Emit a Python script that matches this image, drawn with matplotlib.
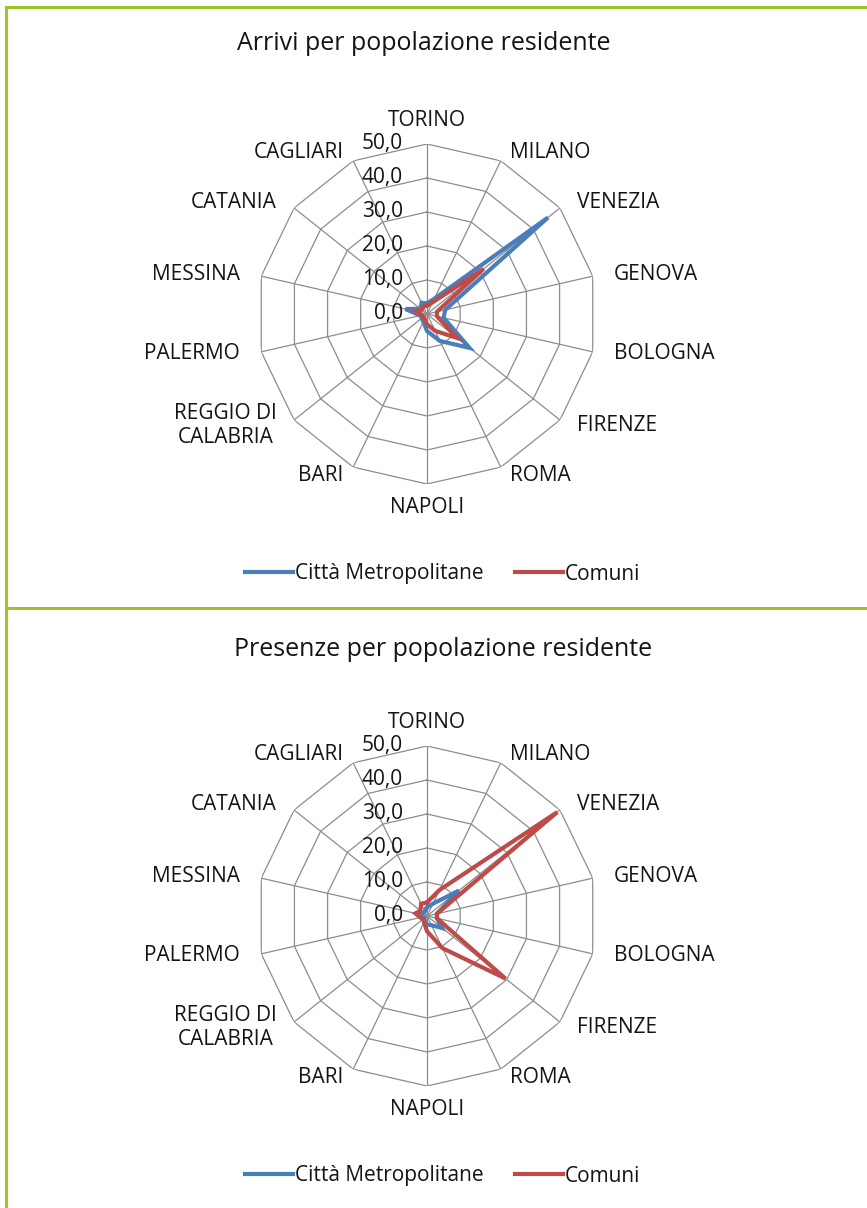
import numpy as np
import matplotlib.pyplot as plt
from matplotlib.lines import Line2D

citta = ['TORINO', 'MILANO', 'VENEZIA', 'GENOVA', 'BOLOGNA', 'FIRENZE', 'ROMA',
         'NAPOLI', 'BARI', 'REGGIO DI\nCALABRIA', 'PALERMO', 'MESSINA', 'CATANIA', 'CAGLIARI']
ticks = [0, 10, 20, 30, 40, 50]
serie = ['Città Metropolitane', 'Comuni']

# arrivi per popolazione residente
arrivi_cm = [3.1, 5.0, 45.5, 5.5, 5.0, 16.0, 8.8, 5.0, 2.5, 2.0, 2.0, 6.5, 2.5, 3.7]
arrivi_com = [2.5, 3.8, 21.3, 3.0, 3.0, 11.3, 5.5, 3.0, 1.5, 1.5, 1.5, 3.5, 2.0, 2.5]

# presenze per popolazione residente
presenze_cm = [2.5, 4.0, 12.0, 3.0, 3.0, 5.7, 3.0, 2.5, 1.5, 1.0, 1.5, 2.5, 1.5, 1.5]
presenze_com = [4.0, 8.5, 49.0, 3.0, 3.0, 29.5, 10.5, 4.5, 2.0, 1.5, 2.0, 3.5, 2.5, 4.0]

plt.rcParams['font.family'] = ['Open Sans', 'DejaVu Sans']

W, H = 867, 1208
fig = plt.figure(figsize=(W / 100, H / 100), dpi=100)

BLUE = '#4A7EBB'
RED = '#BE4B48'
GRID = '#8C8C8C'
GREEN = '#9DC42B'
TXT = '#141414'

ang = np.linspace(0, 2 * np.pi, len(citta), endpoint=False)
closed = np.append(ang, ang[0])


def radar(cy, title, tx, ty, cm, com, ly):
    R = 170
    ax = fig.add_axes([(427 - R) / W, (H - cy - R) / H, 2 * R / W, 2 * R / H],
                      projection='polar')
    ax.set_theta_zero_location('N')
    ax.set_theta_direction(-1)
    ax.set_ylim(0, 50)
    ax.axis('off')

    # polygon grid
    for t in ticks[1:]:
        ax.plot(closed, [t] * len(closed), color=GRID, lw=0.9, zorder=1)
    for a in ang:
        ax.plot([a, a], [0, 50], color=GRID, lw=0.9, zorder=1)

    # radial labels
    for t in ticks:
        ax.annotate(f'{t:.1f}'.replace('.', ','), xy=(0, t), xytext=(-24, 1),
                    textcoords='offset pixels', ha='right', va='center',
                    fontsize=15, color=TXT, annotation_clip=False)

    # category labels, just outside each outer vertex
    for a, name in zip(ang, citta):
        s, c = np.sin(a), np.cos(a)
        if abs(s) < 0.1:
            ha = 'center'
            va = 'bottom' if c > 0 else 'top'
            off = (0, 13 * np.sign(c))
        else:
            ha = 'left' if s > 0 else 'right'
            va = 'center'
            off = (22 * s, 9 * c)
        ax.annotate(name, xy=(a, 50), xytext=off, textcoords='offset pixels',
                    ha=ha, va=va, fontsize=15, color=TXT,
                    multialignment='center', annotation_clip=False)

    ax.plot(closed, np.append(cm, cm[0]), color=BLUE, lw=3, zorder=3,
            solid_joinstyle='miter')
    ax.plot(closed, np.append(com, com[0]), color=RED, lw=3, zorder=4,
            solid_joinstyle='miter')

    fig.text(tx / W, 1 - ty / H, title, ha='center', va='center',
             fontsize=18, color=TXT)

    handles = [Line2D([], [], color=BLUE, lw=3), Line2D([], [], color=RED, lw=3)]
    fig.legend(handles, serie, loc='center', bbox_to_anchor=(443 / W, 1 - ly / H),
               ncol=2, frameon=False, fontsize=15, handlelength=2.3,
               handletextpad=0.1, columnspacing=1.5, labelcolor=TXT)


radar(314, 'Arrivi per popolazione residente', 424, 44, arrivi_cm, arrivi_com, 574)
radar(916, 'Presenze per popolazione residente', 443, 649, presenze_cm, presenze_com, 1176)

# panel borders
bx = 6 / W
fig.add_artist(Line2D([bx, 1], [1 - 7 / H, 1 - 7 / H], color=GREEN, lw=2.2))
fig.add_artist(Line2D([bx, 1], [1 - 608 / H, 1 - 608 / H], color=GREEN, lw=2.2))
fig.add_artist(Line2D([bx, bx], [0, 1 - 7 / H], color=GREEN, lw=2.2))

fig.savefig('out.png', dpi=100)
